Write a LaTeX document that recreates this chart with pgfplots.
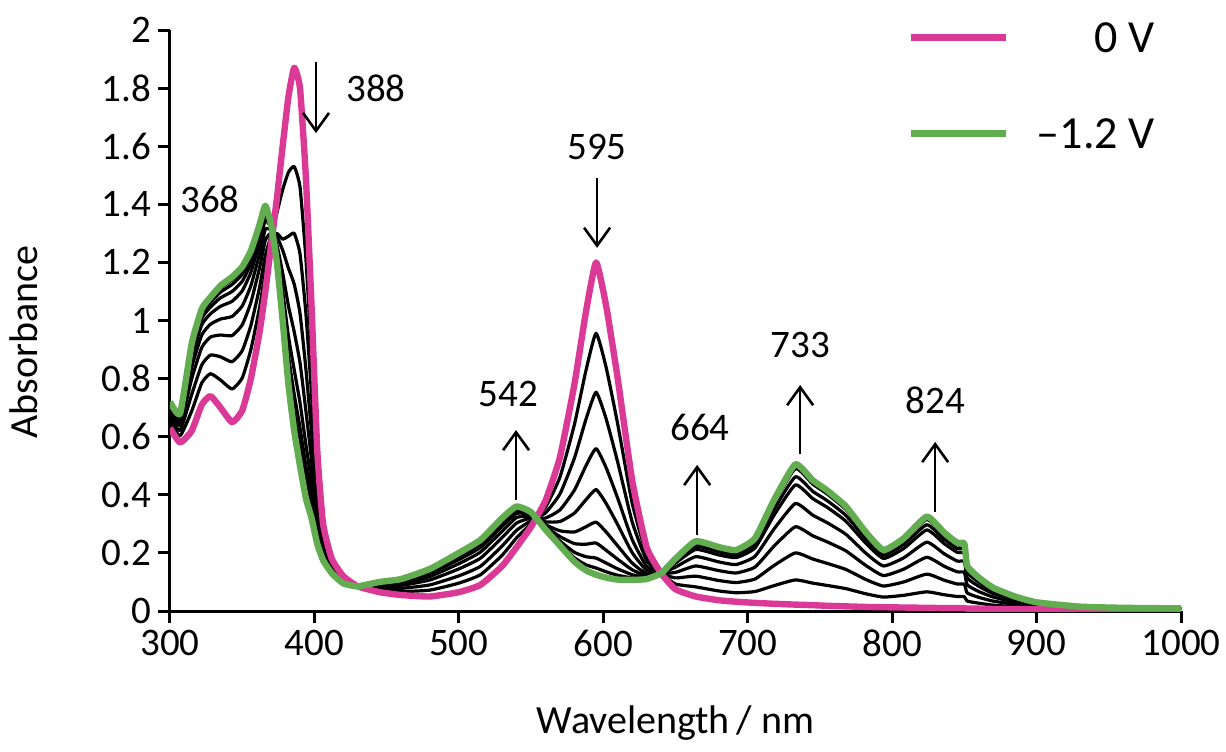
\documentclass[border=0pt]{standalone}
\usepackage{fontspec}
\setmainfont{Carlito}
\usepackage{pgfplots}
\pgfplotsset{compat=1.18}
\usepackage{pgfplotstable}
\usetikzlibrary{arrows.meta}
\definecolor{pinkc}{RGB}{219,57,150}
\definecolor{greenc}{RGB}{98,173,80}

\pgfplotstableread{
x P G B1 B2 B3 B4 B5 B6 B7 B8
300 0.63 0.72 0.650 0.667 0.684 0.695 0.705 0.711 0.715 0.718
307 0.58 0.68 0.603 0.622 0.640 0.653 0.663 0.670 0.675 0.678
315 0.62 0.92 0.688 0.745 0.799 0.838 0.870 0.890 0.904 0.914
322 0.71 1.04 0.785 0.847 0.907 0.950 0.985 1.007 1.023 1.033
328 0.74 1.08 0.817 0.881 0.943 0.987 1.023 1.046 1.062 1.073
335 0.70 1.12 0.795 0.875 0.950 1.005 1.049 1.078 1.098 1.111
343 0.65 1.15 0.764 0.858 0.948 1.014 1.066 1.100 1.124 1.140
350 0.69 1.185 0.802 0.896 0.985 1.050 1.102 1.135 1.159 1.175
356 0.80 1.24 0.900 0.983 1.062 1.120 1.166 1.196 1.217 1.231
362 0.96 1.33 1.044 1.114 1.181 1.229 1.268 1.293 1.310 1.322
366 1.10 1.395 1.167 1.223 1.276 1.314 1.345 1.365 1.379 1.389
370 1.26 1.33 1.276 1.289 1.302 1.311 1.318 1.323 1.326 1.329
374 1.42 1.20 1.370 1.300 1.289 1.260 1.237 1.222 1.212 1.205
378 1.60 1.00 1.450 1.280 1.242 1.164 1.101 1.061 1.032 1.013
382 1.77 0.78 1.510 1.290 1.180 1.050 0.946 0.880 0.832 0.801
386 1.87 0.62 1.530 1.300 1.125 0.961 0.830 0.746 0.686 0.646
390 1.80 0.50 1.460 1.230 1.025 0.855 0.718 0.631 0.569 0.527
394 1.50 0.39 1.220 1.030 0.838 0.693 0.576 0.502 0.449 0.413
398 1.05 0.32 0.884 0.746 0.615 0.519 0.443 0.394 0.359 0.335
402 0.55 0.23 0.477 0.417 0.359 0.317 0.284 0.262 0.247 0.237
406 0.30 0.175 0.272 0.248 0.225 0.209 0.196 0.188 0.182 0.178
412 0.18 0.13 0.169 0.159 0.150 0.144 0.138 0.135 0.133 0.131
420 0.12 0.095 0.114 0.110 0.105 0.102 0.099 0.098 0.096 0.096
430 0.085 0.085 0.085 0.085 0.085 0.085 0.085 0.085 0.085 0.085
445 0.065 0.10 0.073 0.080 0.086 0.090 0.094 0.096 0.098 0.099
460 0.055 0.11 0.067 0.078 0.088 0.095 0.101 0.104 0.107 0.109
480 0.05 0.145 0.072 0.090 0.107 0.119 0.129 0.135 0.140 0.143
500 0.065 0.20 0.096 0.121 0.145 0.163 0.177 0.186 0.193 0.197
515 0.09 0.245 0.125 0.154 0.182 0.203 0.219 0.229 0.237 0.242
530 0.155 0.32 0.192 0.224 0.253 0.275 0.292 0.303 0.311 0.317
540 0.22 0.36 0.252 0.278 0.303 0.322 0.336 0.346 0.353 0.357
550 0.29 0.34 0.301 0.311 0.320 0.326 0.332 0.335 0.337 0.339
560 0.38 0.28 0.357 0.338 0.320 0.307 0.297 0.290 0.285 0.282
570 0.53 0.225 0.461 0.403 0.348 0.308 0.276 0.256 0.241 0.231
580 0.78 0.17 0.642 0.526 0.416 0.337 0.272 0.232 0.202 0.183
588 1.03 0.14 0.828 0.660 0.500 0.383 0.290 0.230 0.187 0.159
595 1.20 0.125 0.956 0.753 0.559 0.418 0.306 0.234 0.182 0.148
602 1.05 0.115 0.838 0.661 0.493 0.370 0.272 0.209 0.165 0.135
610 0.80 0.108 0.643 0.512 0.388 0.297 0.224 0.178 0.145 0.123
620 0.45 0.107 0.372 0.307 0.246 0.201 0.165 0.142 0.125 0.114
630 0.22 0.11 0.195 0.174 0.154 0.140 0.128 0.121 0.116 0.112
640 0.13 0.13 0.130 0.130 0.130 0.130 0.130 0.130 0.130 0.130
650 0.075 0.18 0.093 0.114 0.133 0.151 0.165 0.171 0.177 0.179
664 0.05 0.24 0.083 0.120 0.155 0.187 0.212 0.223 0.234 0.238
680 0.037 0.22 0.069 0.105 0.139 0.169 0.193 0.204 0.214 0.218
692 0.032 0.21 0.063 0.098 0.131 0.160 0.184 0.194 0.204 0.208
705 0.028 0.25 0.067 0.110 0.151 0.188 0.217 0.230 0.243 0.248
718 0.025 0.38 0.087 0.156 0.222 0.281 0.328 0.348 0.369 0.376
733 0.022 0.505 0.107 0.200 0.290 0.370 0.434 0.462 0.490 0.500
745 0.020 0.45 0.096 0.179 0.259 0.330 0.387 0.412 0.437 0.446
755 0.018 0.415 0.088 0.164 0.238 0.304 0.357 0.380 0.403 0.411
768 0.016 0.36 0.077 0.143 0.207 0.264 0.309 0.329 0.349 0.357
782 0.014 0.27 0.059 0.108 0.156 0.198 0.232 0.247 0.262 0.267
794 0.013 0.21 0.048 0.086 0.122 0.155 0.181 0.192 0.204 0.208
808 0.012 0.25 0.054 0.100 0.144 0.183 0.215 0.229 0.243 0.248
824 0.011 0.325 0.066 0.127 0.185 0.237 0.279 0.297 0.315 0.322
836 0.010 0.27 0.056 0.106 0.154 0.197 0.232 0.247 0.262 0.267
845 0.010 0.235 0.050 0.093 0.135 0.172 0.202 0.215 0.228 0.233
850 0.010 0.232 0.049 0.092 0.133 0.170 0.199 0.212 0.225 0.230
852 0.008 0.155 0.034 0.062 0.090 0.114 0.133 0.142 0.150 0.154
860 0.008 0.115 0.027 0.047 0.067 0.085 0.099 0.105 0.112 0.114
870 0.007 0.08 0.020 0.034 0.048 0.060 0.069 0.074 0.078 0.079
885 0.007 0.05 0.015 0.023 0.031 0.038 0.044 0.046 0.049 0.050
900 0.006 0.03 0.010 0.015 0.019 0.023 0.026 0.028 0.029 0.030
930 0.006 0.015 0.008 0.009 0.011 0.012 0.014 0.014 0.015 0.015
960 0.005 0.011 0.006 0.007 0.008 0.009 0.010 0.010 0.011 0.011
1000 0.005 0.009 0.006 0.006 0.007 0.008 0.008 0.009 0.009 0.009
}\spectra

\begin{document}
\begin{tikzpicture}
\begin{axis}[
  scale only axis, width=505.5pt, height=290.5pt,
  xmin=300, xmax=1000, ymin=0, ymax=2,
  axis x line*=bottom, axis y line*=left,
  axis line style={line width=1.5pt},
  xtick={300,400,500,600,700,800,900,1000},
  ytick={0,0.2,0.4,0.6,0.8,1,1.2,1.4,1.6,1.8,2},
  tick align=outside, major tick length=6pt,
  tick style={line width=1.5pt, black},
  /pgf/number format/assume math mode=true,
  /pgf/number format/1000 sep={},
  tick label style={font=\fontsize{19.5}{23}\selectfont},
  label style={font=\fontsize{20}{24}\selectfont},
  xlabel={Wavelength\,/ nm}, ylabel={Absorbance},
  xlabel style={at={(axis description cs:0.5,-0.21)}, anchor=base},
  ylabel style={at={(axis description cs:-0.1311,0.463)}, anchor=base},
  legend style={draw=none, fill=none, inner sep=0pt,
    at={(axis description cs:0.729,1.0138)}, anchor=north west,
    font=\fontsize{23}{27}\selectfont,
    nodes={inner sep=0pt, text height=15pt, text depth=0pt},
    column sep=14pt, row sep=33pt},
  legend cell align=right,
  legend image code/.code={\draw[#1] (0pt,0pt) -- (47.5pt,0pt);},
  every axis plot/.append style={smooth, tension=0.3, line join=round},
]
\coordinate (BL) at (rel axis cs:0,0);
\addplot[black, line width=1.6pt, forget plot] table[x=x,y=B1]{\spectra};
\addplot[black, line width=1.6pt, forget plot] table[x=x,y=B2]{\spectra};
\addplot[black, line width=1.6pt, forget plot] table[x=x,y=B3]{\spectra};
\addplot[black, line width=1.6pt, forget plot] table[x=x,y=B4]{\spectra};
\addplot[black, line width=1.6pt, forget plot] table[x=x,y=B5]{\spectra};
\addplot[black, line width=1.6pt, forget plot] table[x=x,y=B6]{\spectra};
\addplot[black, line width=1.6pt, forget plot] table[x=x,y=B7]{\spectra};
\addplot[black, line width=1.6pt, forget plot] table[x=x,y=B8]{\spectra};
\addplot[pinkc, line width=3.2pt] table[x=x,y=P]{\spectra};
\addlegendentry{0 V}
\addplot[greenc, line width=3.2pt] table[x=x,y=G]{\spectra};
\addlegendentry{–1.2 V}

\begin{scope}[font=\fontsize{19.5}{23}\selectfont]
\node at (axis cs:442.7,1.80) {388};
\node at (axis cs:327.7,1.418) {368};
\node at (axis cs:595.7,1.597) {595};
\node at (axis cs:534.1,0.747) {542};
\node at (axis cs:667,0.633) {664};
\node at (axis cs:736.3,0.916) {733};
\node at (axis cs:829.8,0.726) {824};
\end{scope}
\begin{scope}[line width=1.3pt, -{Straight Barb[length=9pt,width=13pt]}]
\draw (axis cs:401.1,1.89) -- (axis cs:401.1,1.645);
\draw (axis cs:595.7,1.49) -- (axis cs:595.7,1.25);
\draw (axis cs:539.6,0.382) -- (axis cs:539.6,0.623);
\draw (axis cs:665,0.262) -- (axis cs:665,0.503);
\draw (axis cs:736.3,0.54) -- (axis cs:736.3,0.778);
\draw (axis cs:829.8,0.341) -- (axis cs:829.8,0.582);
\end{scope}
\end{axis}
\pgfresetboundingbox
\path (BL) ++(-85pt,-70pt) rectangle ++(613pt,375.5pt);
\end{tikzpicture}
\end{document}
